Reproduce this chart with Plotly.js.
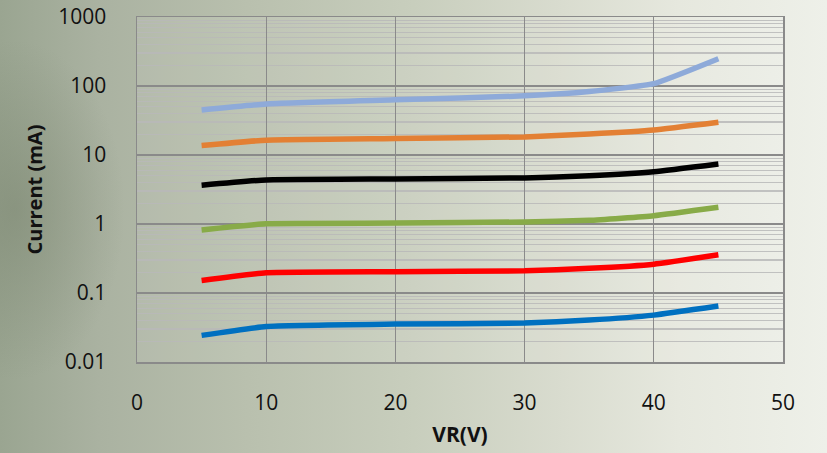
<!DOCTYPE html>
<html>
<head>
<meta charset="utf-8">
<script src="https://cdn.plot.ly/plotly-3.0.1.min.js"></script>
<style>
html,body{margin:0;padding:0;width:827px;height:453px;overflow:hidden;}
body{background:
  radial-gradient(ellipse 110px 170px at 15px 210px, rgba(115,126,104,0.45), rgba(115,126,104,0) 100%),
  linear-gradient(to right, #9aa591 0%, #aab2a1 12%, #b9c0ae 30%, #c8cebd 50%, #d9dccf 68%, #e6e8de 82%, #eef0e9 100%);}
#chart{width:827px;height:453px;}
</style>
</head>
<body>
<div id="chart"></div>
<script>
const vr = [5, 10, 20, 30, 35, 40, 45];
const sLightBlue = [45, 55, 63, 72, 83, 108, 248];
const sOrange = [13.7, 16.4, 17.3, 18.3, 20.2, 23.1, 29.9];
const sBlack = [3.65, 4.36, 4.5, 4.65, 5.02, 5.74, 7.43];
const sGreen = [0.82, 1.01, 1.03, 1.07, 1.13, 1.32, 1.75];
const sRed = [0.152, 0.196, 0.203, 0.21, 0.228, 0.262, 0.358];
const sBlue = [0.0243, 0.0327, 0.0354, 0.0366, 0.0405, 0.0478, 0.0646];
const xTicks = [0, 10, 20, 30, 40, 50];
const yTicks = [0.01, 0.1, 1, 10, 100, 1000];
const yTickText = ['0.01', '0.1', '1', '10', '100', '1000'];

const series = [
  {y: sLightBlue, c: '#8eaad9'},
  {y: sOrange, c: '#e38034'},
  {y: sBlack, c: '#000000'},
  {y: sGreen, c: '#88ab48'},
  {y: sRed, c: '#ff0000'},
  {y: sBlue, c: '#0070c0'}
];
const traces = series.map(s => ({
  x: vr, y: s.y, type: 'scatter', mode: 'lines',
  line: {color: s.c, width: 5.5, shape: 'spline', smoothing: 0.4},
  hoverinfo: 'skip', showlegend: false
}));

const font = {family: 'Open Sans, Noto Sans, sans-serif', color: '#111'};
const layout = {
  width: 827, height: 453,
  margin: {l: 137, r: 44, t: 17, b: 91},
  paper_bgcolor: 'rgba(0,0,0,0)',
  plot_bgcolor: 'rgba(255,255,255,0.08)',
  font: font,
  showlegend: false,
  xaxis: {
    range: [0, 50], tickvals: xTicks, ticktext: xTicks.map(String),
    showgrid: true, gridcolor: '#8a8a8a', gridwidth: 1.3,
    zeroline: false, showline: true, linecolor: '#8a8a8a', linewidth: 1.5, mirror: true,
    ticks: '', ticklabelstandoff: 21,
    tickfont: {size: 21, family: font.family, color: '#111'},
    title: {text: 'VR(V)', font: {size: 21, family: font.family, color: '#111', weight: 'bold'}, standoff: 12}
  },
  yaxis: {
    type: 'log', range: [-2, 3], tickvals: yTicks, ticktext: yTickText,
    showgrid: true, gridcolor: '#8a8a8a', gridwidth: 1.3,
    minor: {dtick: 'D1', showgrid: true, gridcolor: 'rgba(185,185,185,0.85)', gridwidth: 1.2, ticks: ''},
    zeroline: false, showline: true, linecolor: '#8a8a8a', linewidth: 1.5, mirror: true,
    ticks: '', ticklabelstandoff: 25,
    tickfont: {size: 21, family: font.family, color: '#111'},
    title: {text: 'Current (mA)', font: {size: 20, family: font.family, color: '#111', weight: 'bold'}, standoff: 10}
  }
};
Plotly.newPlot('chart', traces, layout, {staticPlot: true, displayModeBar: false});
</script>
</body>
</html>
